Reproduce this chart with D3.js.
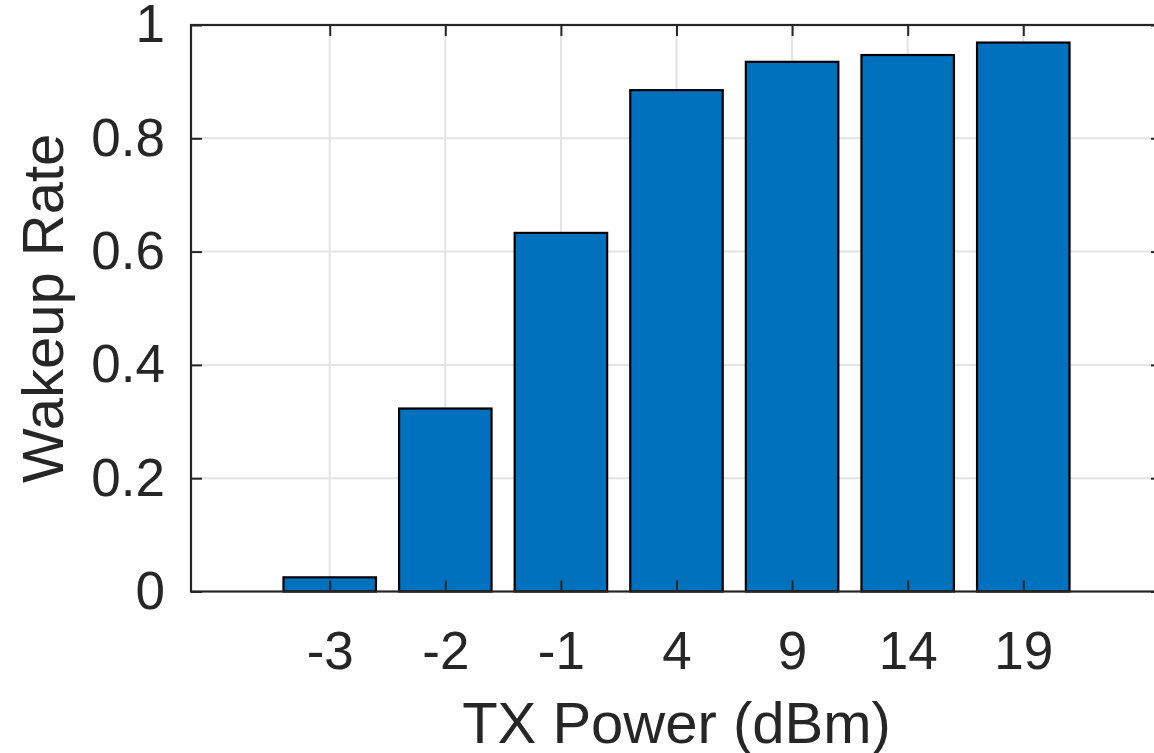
<!DOCTYPE html>
<html>
<head>
<meta charset="utf-8">
<script src="https://cdn.jsdelivr.net/npm/d3@7"></script>
<style>
  html, body { margin: 0; padding: 0; background: #fff; }
  svg { display: block; }
  text { font-family: "Liberation Sans", Arial, Helvetica, sans-serif; fill: #262626; }
</style>
</head>
<body>
<svg id="chart" width="1154" height="753"></svg>
<script>
// TX power levels (dBm) and the measured wakeup rate at each
const categories = ["-3", "-2", "-1", "4", "9", "14", "19"];
const wakeupRate = [0.025, 0.323, 0.633, 0.885, 0.935, 0.947, 0.969];
const yTicks = [0, 0.2, 0.4, 0.6, 0.8, 1];
const yTickLabels = ["0", "0.2", "0.4", "0.6", "0.8", "1"];

const svg = d3.select("#chart");
const plotLeft = 191, plotRight = 1162, plotTop = 25, plotBottom = 591.5;
const axisColor = "#262626";
const gridColor = "#e3e3e3";

// bars sit at integer positions 1..n, with 1.2 units of padding on each side
const n = categories.length;
const x = d3.scaleLinear().domain([-0.2, n + 1.2]).range([plotLeft, plotRight]);
const y = d3.scaleLinear().domain([0, 1]).range([plotBottom, plotTop]);
const barWidth = 0.8;
const idx = d3.range(1, n + 1);

// grid
const grid = svg.append("g");
grid.selectAll("line.gx").data(idx).join("line")
  .attr("class", "gx")
  .attr("x1", d => x(d)).attr("x2", d => x(d))
  .attr("y1", plotTop).attr("y2", plotBottom)
  .attr("stroke", gridColor).attr("stroke-width", 2);
grid.selectAll("line.gy").data(yTicks.slice(1, -1)).join("line")
  .attr("class", "gy")
  .attr("x1", plotLeft).attr("x2", plotRight)
  .attr("y1", d => y(d)).attr("y2", d => y(d))
  .attr("stroke", gridColor).attr("stroke-width", 2);

// bars
svg.append("g").selectAll("rect").data(wakeupRate).join("rect")
  .attr("x", (d, i) => x(i + 1 - barWidth / 2))
  .attr("width", (d, i) => x(i + 1 + barWidth / 2) - x(i + 1 - barWidth / 2))
  .attr("y", d => y(d))
  .attr("height", d => y(0) - y(d))
  .attr("fill", "#0072BD")
  .attr("stroke", "#000")
  .attr("stroke-width", 2.2);

// axes with inward ticks (box style)
const tickLen = 11;
const tickFont = 53;
const xAxis = d3.axisBottom(x).tickValues(idx)
  .tickFormat((d) => categories[d - 1])
  .tickSizeInner(-tickLen).tickSizeOuter(0).tickPadding(40);
const gx = svg.append("g").attr("transform", `translate(0,${plotBottom})`).call(xAxis);
gx.select(".domain").remove();
gx.selectAll(".tick line").attr("stroke", axisColor).attr("stroke-width", 2);
gx.selectAll(".tick text").attr("font-size", tickFont).attr("fill", axisColor)
  .attr("font-family", "Liberation Sans, Arial, sans-serif");

const xAxisTop = d3.axisTop(x).tickValues(idx).tickFormat("")
  .tickSizeInner(-tickLen).tickSizeOuter(0);
const gxt = svg.append("g").attr("transform", `translate(0,${plotTop})`).call(xAxisTop);
gxt.select(".domain").remove();
gxt.selectAll(".tick line").attr("stroke", axisColor).attr("stroke-width", 2);

const yAxis = d3.axisLeft(y).tickValues(yTicks)
  .tickFormat((d, i) => yTickLabels[i])
  .tickSizeInner(-tickLen).tickSizeOuter(0).tickPadding(26);
const gy = svg.append("g").attr("transform", `translate(${plotLeft},0)`).call(yAxis);
gy.select(".domain").remove();
gy.selectAll(".tick line").attr("stroke", axisColor).attr("stroke-width", 2);
gy.selectAll(".tick text").attr("font-size", tickFont).attr("fill", axisColor)
  .attr("font-family", "Liberation Sans, Arial, sans-serif");

const yAxisRight = d3.axisRight(y).tickValues(yTicks).tickFormat("")
  .tickSizeInner(-tickLen).tickSizeOuter(0);
const gyr = svg.append("g").attr("transform", `translate(${plotRight},0)`).call(yAxisRight);
gyr.select(".domain").remove();
gyr.selectAll(".tick line").attr("stroke", axisColor).attr("stroke-width", 2);

// box outline
svg.append("rect")
  .attr("x", plotLeft).attr("y", plotTop)
  .attr("width", plotRight - plotLeft).attr("height", plotBottom - plotTop)
  .attr("fill", "none").attr("stroke", axisColor).attr("stroke-width", 2.2);

// axis titles
svg.append("text")
  .attr("x", (plotLeft + plotRight) / 2).attr("y", 743)
  .attr("text-anchor", "middle")
  .attr("font-size", 58)
  .text("TX Power (dBm)");

svg.append("text")
  .attr("transform", `translate(63,${(plotTop + plotBottom) / 2}) rotate(-90)`)
  .attr("text-anchor", "middle")
  .attr("font-size", 58)
  .text("Wakeup Rate");
</script>
</body>
</html>
